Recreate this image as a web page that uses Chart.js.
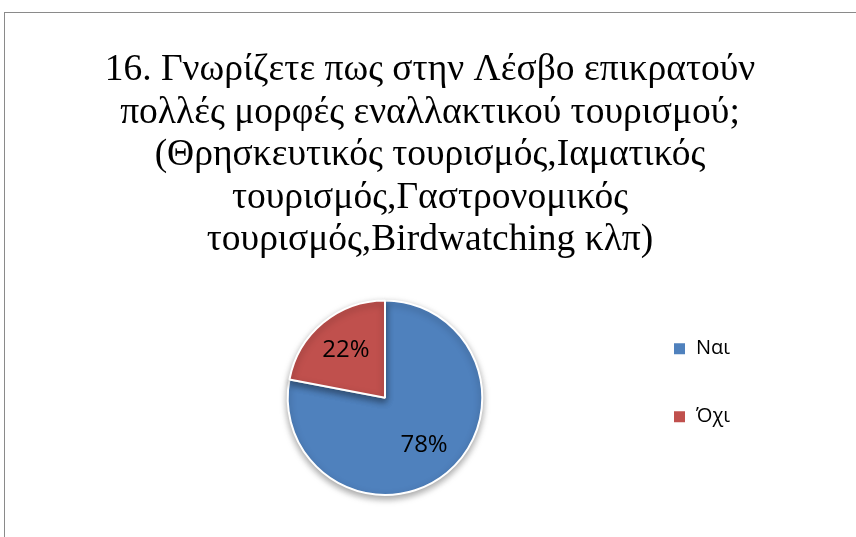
<!DOCTYPE html>
<html>
<head>
<meta charset="utf-8">
<script src="https://cdn.jsdelivr.net/npm/chart.js@4/dist/chart.umd.min.js"></script>
<style>
  html, body { margin: 0; padding: 0; background: #fff; }
  body { width: 856px; height: 537px; position: relative; overflow: hidden; }
  #frame { position: absolute; left: 4px; top: 12px; width: 900px; height: 600px; border: 1.5px solid #8a8a8a; box-sizing: border-box; }
  #wrap { position: absolute; left: 0; top: 0; width: 856px; height: 537px; }
</style>
</head>
<body>
<div id="frame"></div>
<div id="wrap"><canvas id="c" width="856" height="537"></canvas></div>
<script>
const titleLines = [
  "16. Γνωρίζετε πως στην Λέσβο επικρατούν",
  "πολλές μορφές εναλλακτικού τουρισμού;",
  "(Θρησκευτικός τουρισμός,Ιαματικός",
  "τουρισμός,Γαστρονομικός",
  "τουρισμός,Birdwatching κλπ)"
];
const categories = ["Ναι", "Όχι"];
const values = [78, 22];
const colors = ["#4F81BD", "#C0504D"];

// Box placement (layout only, not data marks)
const TITLE_CENTER_X = 430;
const LEGEND_X = 673;
const LEGEND_DY = -15;

const placementPlugin = {
  id: 'placement',
  afterLayout(chart) {
    const t = chart.titleBlock;
    if (t) {
      const dx = TITLE_CENTER_X - (t.left + t.right) / 2;
      t.left += dx; t.right += dx;
    }
    const lg = chart.legend;
    const ca = chart.chartArea;
    if (lg) {
      const p = lg.options.labels.padding;
      lg.left = LEGEND_X - p;
      lg.right = lg.left + 160;
      lg.width = 160;
      lg.top = ca.top + LEGEND_DY;
      lg.bottom = ca.bottom + LEGEND_DY;
      lg.height = lg.bottom - lg.top;
    }
  }
};

const shadowPlugin = {
  id: 'pieShadow',
  beforeDatasetsDraw(chart) {
    const ctx = chart.ctx;
    ctx.save();
    ctx.shadowColor = 'rgba(0,0,0,0.35)';
    ctx.shadowBlur = 7;
    ctx.shadowOffsetX = 0;
    ctx.shadowOffsetY = 3;
  },
  afterDatasetsDraw(chart) {
    chart.ctx.restore();
  }
};

const labelPlugin = {
  id: 'pctLabels',
  afterDraw(chart) {
    const ctx = chart.ctx;
    const meta = chart.getDatasetMeta(0);
    const data = chart.data.datasets[0].data;
    const total = data.reduce((a, b) => a + b, 0);
    ctx.save();
    ctx.font = '24px "Open Sans", "Liberation Sans", Arial, sans-serif';
    ctx.fillStyle = '#000';
    ctx.textAlign = 'center';
    ctx.textBaseline = 'middle';
    meta.data.forEach((arc, i) => {
      const p = arc.getProps(['x', 'y', 'startAngle', 'endAngle', 'outerRadius'], true);
      const mid = (p.startAngle + p.endAngle) / 2;
      const r = p.outerRadius * 0.63;
      const x = p.x + Math.cos(mid) * r;
      const y = p.y + Math.sin(mid) * r;
      ctx.fillText(Math.round(data[i] / total * 100) + '%', x, y);
    });
    ctx.restore();
  }
};

new Chart(document.getElementById('c'), {
  type: 'pie',
  data: {
    labels: categories,
    datasets: [{
      data: values,
      backgroundColor: colors,
      borderColor: '#ffffff',
      borderWidth: 2
    }]
  },
  options: {
    responsive: false,
    animation: false,
    events: [],
    layout: { padding: { left: 20, right: 106, top: 49, bottom: 41 } },
    plugins: {
      tooltip: { enabled: false },
      title: {
        display: true,
        text: titleLines,
        color: '#000',
        font: { family: '"Liberation Serif", "Times New Roman", serif', size: 37.5, weight: 'normal', lineHeight: 1.133 },
        padding: { top: 0, bottom: 38 }
      },
      legend: {
        display: true,
        position: 'chartArea',
        align: 'center',
        labels: {
          color: '#000',
          font: { family: '"Open Sans", "Liberation Sans", Arial, sans-serif', size: 20 },
          boxWidth: 13,
          boxHeight: 13,
          padding: 48
        }
      }
    }
  },
  plugins: [placementPlugin, shadowPlugin, labelPlugin]
});
</script>
</body>
</html>
